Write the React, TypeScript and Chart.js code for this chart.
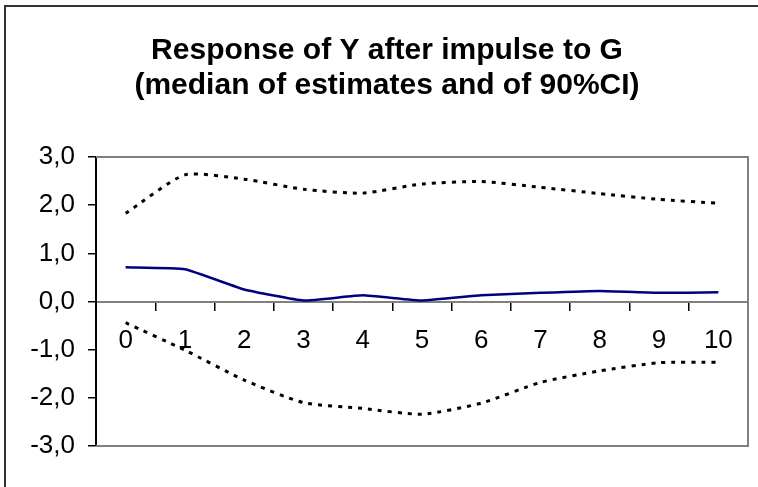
import React, { useEffect, useRef } from "react";
import { Chart, registerables } from "chart.js";

Chart.register(...registerables);

// ---- data ----
const horizons = ["0", "1", "2", "3", "4", "5", "6", "7", "8", "9", "10"];
const upperCI = [1.83, 2.63, 2.54, 2.33, 2.25, 2.44, 2.49, 2.37, 2.24, 2.12, 2.04];
const medianResp = [0.71, 0.67, 0.25, 0.02, 0.13, 0.02, 0.13, 0.18, 0.22, 0.18, 0.19];
const lowerCI = [-0.44, -1.01, -1.63, -2.1, -2.22, -2.34, -2.11, -1.68, -1.44, -1.27, -1.26];
const yTickValues = [-3, -2, -1, 0, 1, 2, 3];
const titleLines = ["Response of Y after impulse to G", "(median of estimates and of 90%CI)"];

const FONT = "Arial, 'Liberation Sans', sans-serif";

export default function App() {
  const ref = useRef<HTMLCanvasElement | null>(null);

  useEffect(() => {
    if (!ref.current) return;
    const framePlugin = {
      id: "framePlugin",
      beforeDraw(chart: any) {
        const ctx = chart.ctx;
        ctx.save();
        ctx.strokeStyle = "#333333";
        ctx.lineWidth = 2;
        ctx.strokeRect(5, 6, 800, 600);
        ctx.restore();
      },
      beforeDatasetsDraw(chart: any) {
        const { left, top, right, bottom } = chart.chartArea;
        const ctx = chart.ctx;
        ctx.save();
        ctx.strokeStyle = "#808080";
        ctx.lineWidth = 2;
        ctx.beginPath();
        ctx.moveTo(left, top);
        ctx.lineTo(right, top);
        ctx.lineTo(right, bottom);
        ctx.lineTo(left, bottom);
        ctx.stroke();
        ctx.restore();
      },
    };

    const chart = new Chart(ref.current, {
      type: "line",
      data: {
        labels: horizons,
        datasets: [
          {
            label: "upper 90% CI",
            data: upperCI,
            borderColor: "#000000",
            borderWidth: 3,
            borderDash: [4, 6],
            pointRadius: 0,
            tension: 0.2,
            fill: false,
          },
          {
            label: "median",
            data: medianResp,
            borderColor: "#000080",
            borderWidth: 2.5,
            pointRadius: 0,
            tension: 0.12,
            fill: false,
          },
          {
            label: "lower 90% CI",
            data: lowerCI,
            borderColor: "#000000",
            borderWidth: 3,
            borderDash: [4, 6],
            pointRadius: 0,
            tension: 0.2,
            fill: false,
          },
        ],
      },
      options: {
        responsive: false,
        animation: false,
        layout: { padding: { left: 26, right: 10, top: 0, bottom: 41 } },
        plugins: {
          legend: { display: false },
          tooltip: { enabled: false },
          title: {
            display: true,
            text: titleLines,
            color: "#000000",
            font: { family: FONT, size: 30, weight: "bold", lineHeight: 35 / 30 },
            padding: { top: 33, bottom: 54 },
          },
        },
        scales: {
          x: {
            type: "category",
            position: { y: 0 } as any,
            offset: true,
            grid: {
              offset: true,
              drawOnChartArea: false,
              drawTicks: true,
              tickLength: 8,
              tickColor: "#000000",
              tickWidth: 1.5,
              lineWidth: 1.5,
            },
            border: { display: true, color: "#808080", width: 2 },
            ticks: {
              color: "#000000",
              font: { family: FONT, size: 26 },
              padding: 16,
              maxRotation: 0,
              autoSkip: false,
            },
          },
          y: {
            min: yTickValues[0],
            max: yTickValues[yTickValues.length - 1],
            afterBuildTicks: (scale: any) => {
              scale.ticks = yTickValues.map((v) => ({ value: v }));
            },
            afterFit: (scale: any) => {
              scale.width = 70;
            },
            grid: {
              drawOnChartArea: false,
              drawTicks: true,
              tickLength: 8,
              tickColor: "#000000",
              tickWidth: 1.5,
              lineWidth: 1.5,
            },
            border: { display: true, color: "#000000", width: 2 },
            ticks: {
              color: "#000000",
              font: { family: FONT, size: 26 },
              padding: 13,
              callback: (v: any) => Number(v).toFixed(1).replace(".", ","),
            },
          },
        },
      },
      plugins: [framePlugin],
    });
    return () => chart.destroy();
  }, []);

  return (
    <div
      style={{
        position: "fixed",
        left: 0,
        top: 0,
        width: 758,
        height: 487,
        background: "#ffffff",
        overflow: "hidden",
      }}
    >
      <canvas ref={ref} width={758} height={487} style={{ display: "block" }} />
    </div>
  );
}
